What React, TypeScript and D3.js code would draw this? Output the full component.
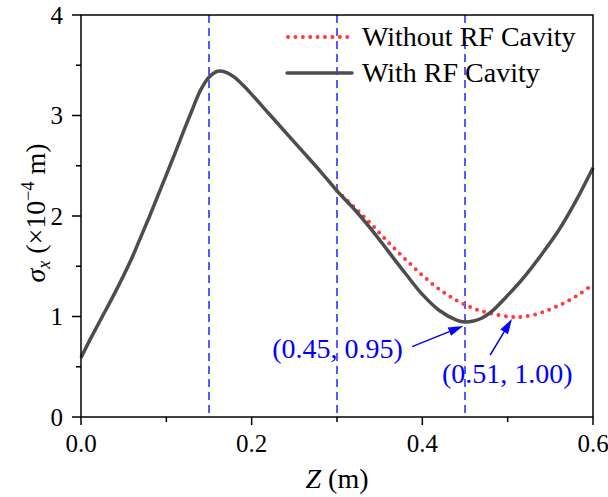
import React from "react";
import * as d3 from "d3";

const zWith = [0, 0.01, 0.02, 0.03, 0.04, 0.05, 0.06, 0.07, 0.08, 0.09, 0.1, 0.11, 0.12, 0.13, 0.14, 0.15, 0.16, 0.17, 0.18, 0.19, 0.2, 0.22, 0.24, 0.26, 0.28, 0.3, 0.32, 0.34, 0.36, 0.38, 0.4, 0.42, 0.44, 0.45, 0.46, 0.47, 0.48, 0.5, 0.52, 0.54, 0.56, 0.58, 0.6];
const sWith = [0.59, 0.76, 0.92, 1.08, 1.24, 1.41, 1.59, 1.79, 1.99, 2.2, 2.41, 2.62, 2.84, 3.05, 3.25, 3.38, 3.44, 3.43, 3.38, 3.3, 3.21, 3.02, 2.83, 2.64, 2.45, 2.25, 2.07, 1.87, 1.65, 1.43, 1.22, 1.06, 0.965, 0.945, 0.955, 0.985, 1.04, 1.21, 1.4, 1.62, 1.86, 2.15, 2.48];

const zWithout = [0.3, 0.32, 0.34, 0.36, 0.38, 0.4, 0.42, 0.44, 0.46, 0.48, 0.5, 0.51, 0.52, 0.54, 0.56, 0.58, 0.6];
const sWithout = [2.25, 2.09, 1.92, 1.74, 1.57, 1.41, 1.27, 1.16, 1.08, 1.03, 1.0, 0.995, 1.0, 1.04, 1.11, 1.2, 1.32];

const xMajor = [0, 0.2, 0.4, 0.6];
const xMinor = [0.1, 0.3, 0.5];
const yMajor = [0, 1, 2, 3, 4];
const yMinor = [0.5, 1.5, 2.5, 3.5];
const vLines = [0.15, 0.3, 0.45];

const annotations = [
  { label: "(0.45, 0.95)", tx: 0.224, ty: 0.587, ax: 0.388, ay: 0.7, bx: 0.448, by: 0.905 },
  { label: "(0.51, 1.00)", tx: 0.423, ty: 0.338, ax: 0.4795, ay: 0.617, bx: 0.505, by: 0.975 },
];

const legendItems = [
  { label: "Without RF Cavity", kind: "dot" },
  { label: "With RF Cavity", kind: "solid" },
];

const FONT = "Liberation Serif, Times New Roman, DejaVu Serif, serif";
const BLUE = "#0000ff";
const RED = "#ff3b3b";
const GREY = "#4d4d4d";
const TS: React.CSSProperties = { fontFamily: FONT };

export default function App() {
  const W = 608, H = 497;
  const L = 81, R = 593, T = 15, B = 417;
  const x = d3.scaleLinear().domain([0, 0.6]).range([L, R]);
  const y = d3.scaleLinear().domain([0, 4]).range([B, T]);

  const line = d3
    .line<[number, number]>()
    .x((d) => x(d[0]))
    .y((d) => y(d[1]))
    .curve(d3.curveCatmullRom.alpha(0.5));

  const withPts = zWith.map((z, i) => [z, sWith[i]] as [number, number]);
  const withoutPts = zWithout.map((z, i) => [z, sWithout[i]] as [number, number]);

  const arrow = (a: (typeof annotations)[0]) => {
    const x1 = x(a.ax), y1 = y(a.ay), x2 = x(a.bx), y2 = y(a.by);
    const ang = Math.atan2(y2 - y1, x2 - x1);
    const hl = 15, hw = 4.5;
    const bx = x2 - hl * Math.cos(ang), by = y2 - hl * Math.sin(ang);
    const px = -Math.sin(ang) * hw, py = Math.cos(ang) * hw;
    return (
      <g>
        <line x1={x1} y1={y1} x2={bx} y2={by} stroke={BLUE} strokeWidth={1.5} />
        <polygon points={`${x2},${y2} ${bx + px},${by + py} ${bx - px},${by - py}`} fill={BLUE} />
      </g>
    );
  };

  return (
    <svg width={W} height={H} style={{ position: "absolute", left: 0, top: 0, background: "#fff", fontFamily: FONT }}>
      <rect x={0} y={0} width={W} height={H} fill="#fff" />
      {vLines.map((v) => (
        <line key={v} x1={x(v)} x2={x(v)} y1={T} y2={B} stroke={BLUE} strokeWidth={1.3} strokeDasharray="8,5" />
      ))}
      <path d={line(withoutPts) || ""} fill="none" stroke={RED} strokeWidth={4} strokeDasharray="0,7.4" strokeLinecap="round" />
      <path d={line(withPts) || ""} fill="none" stroke={GREY} strokeWidth={3.5} strokeLinejoin="round" />

      <rect x={L} y={T} width={R - L} height={B - T} fill="none" stroke="#000" strokeWidth={1.5} />
      {xMajor.map((v) => (
        <g key={"xM" + v}>
          <line x1={x(v)} x2={x(v)} y1={B} y2={B + 8} stroke="#000" strokeWidth={1.5} />
          <text style={TS} x={x(v)} y={452} fontSize={25} textAnchor="middle">{v.toFixed(1)}</text>
        </g>
      ))}
      {xMinor.map((v) => (
        <line key={"xm" + v} x1={x(v)} x2={x(v)} y1={B} y2={B + 5} stroke="#000" strokeWidth={1.5} />
      ))}
      {yMajor.map((v) => (
        <g key={"yM" + v}>
          <line x1={L - 9} x2={L} y1={y(v)} y2={y(v)} stroke="#000" strokeWidth={1.5} />
          <text style={TS} x={63} y={y(v) + 8.5} fontSize={25} textAnchor="end">{v}</text>
        </g>
      ))}
      {yMinor.map((v) => (
        <line key={"ym" + v} x1={L - 5} x2={L} y1={y(v)} y2={y(v)} stroke="#000" strokeWidth={1.5} />
      ))}

      <text style={TS} x={(L + R) / 2} y={488} fontSize={28} textAnchor="middle">
        <tspan fontStyle="italic">Z</tspan> (m)
      </text>
      <text style={TS} transform={`translate(45, 213) rotate(-90)`} fontSize={28} textAnchor="middle">
        <tspan fontStyle="italic">σ</tspan>
        <tspan fontStyle="italic" fontSize={18} dy={5}>x</tspan>
        <tspan dy={-5}> (×10</tspan>
        <tspan fontSize={18} dy={-11}>−4</tspan>
        <tspan dy={11}> m)</tspan>
      </text>

      {legendItems.map((it, i) => {
        const ly = 37 + i * 36;
        return (
          <g key={it.label}>
            {it.kind === "dot" ? (
              <line x1={288} x2={352} y1={ly} y2={ly} stroke={RED} strokeWidth={4} strokeDasharray="0,7.4" strokeLinecap="round" />
            ) : (
              <line x1={287} x2={352} y1={ly} y2={ly} stroke={GREY} strokeWidth={3.5} strokeLinecap="round" />
            )}
            <text style={TS} x={362} y={ly + 9} fontSize={28}>{it.label}</text>
          </g>
        );
      })}

      {annotations.map((a) => (
        <g key={a.label}>
          {arrow(a)}
          <text style={TS} x={x(a.tx)} y={y(a.ty)} fontSize={28} fill={BLUE}>{a.label}</text>
        </g>
      ))}
    </svg>
  );
}
